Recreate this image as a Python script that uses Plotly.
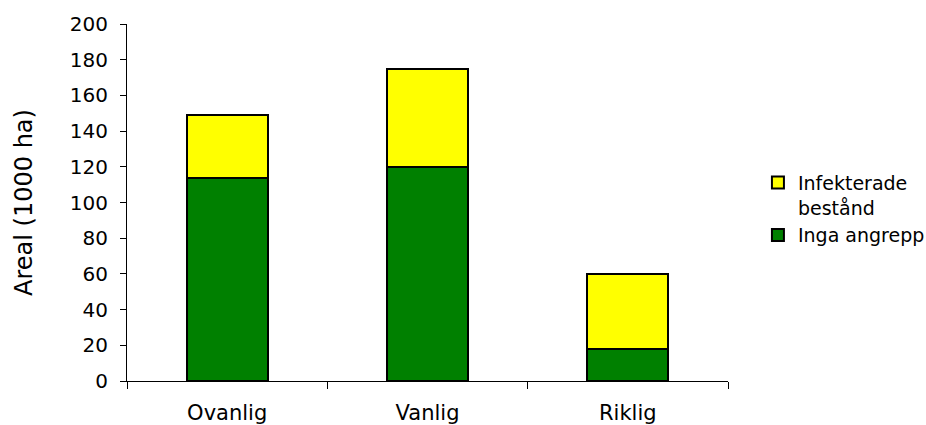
import plotly.graph_objects as go

# Forest stand area by occurrence class, split by infection status
categories = ["Ovanlig", "Vanlig", "Riklig"]
inga_angrepp = [114, 120, 18]      # stands without attacks (1000 ha)
infekterade = [35, 55, 42]         # infected stands (1000 ha)

series_names = ["Inga angrepp", "Infekterade<br>bestånd"]
series_colors = ["#008000", "#FFFF00"]

y_ticks = list(range(0, 201, 20))

FONT = "DejaVu Sans"

fig = go.Figure()
for name, values, color in zip(series_names, [inga_angrepp, infekterade], series_colors):
    fig.add_trace(go.Bar(
        x=categories,
        y=values,
        name=name,
        marker=dict(color=color, line=dict(color="black", width=2)),
    ))

fig.update_layout(
    barmode="stack",
    bargap=0.595,
    width=926,
    height=425,
    margin=dict(l=127, r=198, t=24, b=44),
    plot_bgcolor="white",
    paper_bgcolor="white",
    font=dict(family=FONT, color="black"),
    showlegend=True,
    legend=dict(
        traceorder="reversed",
        xref="container", yref="container",
        x=0.8185, y=0.615,
        xanchor="left", yanchor="top",
        valign="top",
        font=dict(family=FONT, size=19, color="black"),
        bgcolor="rgba(0,0,0,0)",
        tracegroupgap=6,
    ),
)

fig.update_xaxes(
    showline=True, linecolor="black", linewidth=1,
    ticks="outside", ticklen=7, tickcolor="black",
    tickson="boundaries",
    showgrid=False,
    tickfont=dict(family=FONT, size=21, color="black"),
    ticklabelstandoff=13,
    automargin=False,
)

fig.update_yaxes(
    range=[0, 200],
    tickvals=y_ticks,
    showline=True, linecolor="black", linewidth=1,
    ticks="outside", ticklen=6, tickcolor="black",
    showgrid=False, zeroline=False,
    tickfont=dict(family=FONT, size=20, color="black"),
    ticklabelstandoff=8,
    title=dict(text="Areal (1000 ha)", font=dict(family=FONT, size=24, color="black"), standoff=30),
    automargin=False,
)

fig.write_html("out.html")
